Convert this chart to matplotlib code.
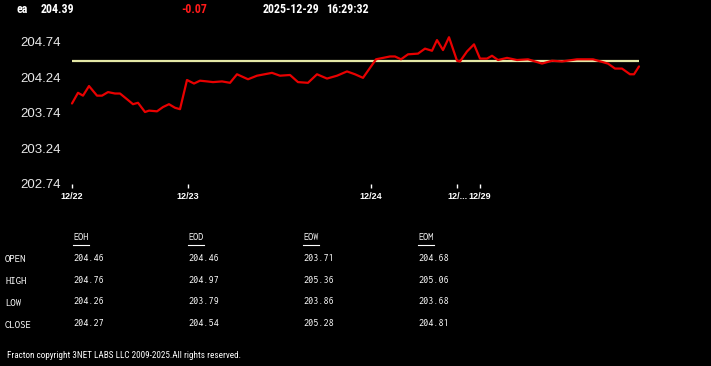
import matplotlib
matplotlib.use("Agg")
import matplotlib.pyplot as plt
from matplotlib import font_manager

names = {f.name for f in font_manager.fontManager.ttflist}
def pick(*cands):
    for c in cands:
        if c in names:
            return c
    return 'DejaVu Sans'
NARROW = pick('Roboto Condensed', 'Archivo Narrow', 'PT Sans Narrow', 'Liberation Sans')
SANS = pick('Liberation Sans', 'Arimo')
MONO = pick('Inconsolata', 'DejaVu Sans Mono')

# ---- data ----
symbol = "ea"
last_price = "204.39"
change = "-0.07"
date_str = "2025-12-29"
time_str = "16:29:32"

t = [0, 6, 11, 17, 25, 30, 36, 43, 48, 55, 61, 66, 73, 77, 85, 91, 97, 103, 108,
     115, 122, 128, 135, 141, 150, 158, 165, 176, 185, 200, 208, 218, 226, 236,
     245, 255, 265, 275, 283, 291, 296, 304, 311, 318, 323, 329, 336, 346, 353,
     360, 365, 371, 377, 385, 388, 395, 402, 408, 415, 420, 426, 435, 445, 456,
     470, 480, 490, 505, 521, 531, 536, 543, 550, 558, 562, 567]
price = [203.87, 204.02, 203.98, 204.115, 203.98, 203.98, 204.03, 204.01, 204.01,
         203.93, 203.86, 203.88, 203.75, 203.77, 203.76, 203.82, 203.86, 203.81,
         203.79, 204.20, 204.15, 204.19, 204.18, 204.17, 204.18, 204.16, 204.28,
         204.21, 204.26, 204.30, 204.26, 204.27, 204.17, 204.16, 204.28, 204.22,
         204.26, 204.32, 204.28, 204.23, 204.33, 204.49, 204.51, 204.53, 204.53,
         204.49, 204.56, 204.57, 204.64, 204.61, 204.76, 204.62, 204.80, 204.47,
         204.46, 204.60, 204.70, 204.50, 204.50, 204.54, 204.48, 204.51, 204.48,
         204.49, 204.43, 204.47, 204.46, 204.49, 204.49, 204.45, 204.43, 204.36,
         204.36, 204.28, 204.28, 204.39]
ref_level = 204.46

xtick_pos = [0, 116, 299, 385, 408]
xtick_labels = ["12/22", "12/23", "12/24", "12/...", "12/29"]
ytick_vals = [202.74, 203.24, 203.74, 204.24, 204.74]

col_headers = ["EOH", "EOD", "EOW", "EOM"]
row_labels = ["OPEN", "HIGH", "LOW", "CLOSE"]
table_vals = [
    ["204.46", "204.46", "203.71", "204.68"],
    ["204.76", "204.97", "205.36", "205.06"],
    ["204.26", "203.79", "203.86", "203.68"],
    ["204.27", "204.54", "205.28", "204.81"],
]
footer = "Fracton copyright 3NET LABS LLC 2009-2025.All rights reserved."

# ---- figure ----
W, H = 711, 366
fig = plt.figure(figsize=(W / 100, H / 100), dpi=100, facecolor='black')

def fx(px):
    return px / W

def fy(py):
    return 1 - py / H

ax = fig.add_axes([fx(72), fy(184), fx(639) - fx(72), fy(41.5) - fy(184)])
ax.set_facecolor('black')
for s in ax.spines.values():
    s.set_visible(False)
ax.set_xlim(t[0], t[-1])
ax.set_ylim(ytick_vals[0], ytick_vals[-1])
ax.axhline(ref_level, color='#e4e8a6', lw=1.6, zorder=2)
ax.plot(t, price, color='#e80000', lw=1.6, zorder=3, solid_joinstyle='round',
        solid_capstyle='round', clip_on=False)

ax.set_yticks(ytick_vals)
ax.set_yticklabels([f"{v:.2f}" for v in ytick_vals])
ax.tick_params(axis='y', length=0, pad=8, colors='#e8e8e8', labelsize=9.5)
for lb in ax.get_yticklabels():
    lb.set_fontfamily(SANS)

ax.set_xticks(xtick_pos)
ax.set_xticklabels(xtick_labels)
ax.tick_params(axis='x', length=3, width=1, direction='out', colors='white',
               labelsize=6.5, pad=3)
for lb in ax.get_xticklabels():
    lb.set_fontfamily(SANS)
    lb.set_fontweight('bold')

# header
hdr = dict(color='white', fontsize=8.6, fontweight='bold', family=NARROW,
           va='center', ha='left')
fig.text(fx(16.5), fy(9.5), symbol, **hdr)
fig.text(fx(40.5), fy(9.5), last_price, **hdr)
fig.text(fx(181), fy(9.5), change, **{**hdr, 'color': '#ff1a1a'})
fig.text(fx(262.5), fy(9.5), date_str, **hdr)
fig.text(fx(326.5), fy(9.5), time_str, **hdr)

# table
col_x = [73, 188, 303, 418]
row_y = [258.5, 280.5, 302, 324]
TS = 7.3
for cx, h in zip(col_x, col_headers):
    fig.text(fx(cx), fy(238), h, color='white', fontsize=TS, family=MONO,
             va='center', ha='left')
    fig.add_artist(plt.Line2D([fx(cx), fx(cx + 16)], [fy(245), fy(245)],
                              color='white', lw=0.8))
for ry, rl, vals in zip(row_y, row_labels, table_vals):
    fig.text(fx(5), fy(ry + 1.5), rl, color='white', fontsize=TS + 0.4, family=MONO,
             va='center', ha='left')
    for cx, v in zip(col_x, vals):
        fig.text(fx(cx), fy(ry), v, color='white', fontsize=TS, family=MONO,
                 va='center', ha='left')

fig.text(fx(7), fy(355.5), footer, color='white', fontsize=6.6, family=NARROW,
         va='center', ha='left')

fig.savefig('out.png', dpi=100, facecolor='black')
